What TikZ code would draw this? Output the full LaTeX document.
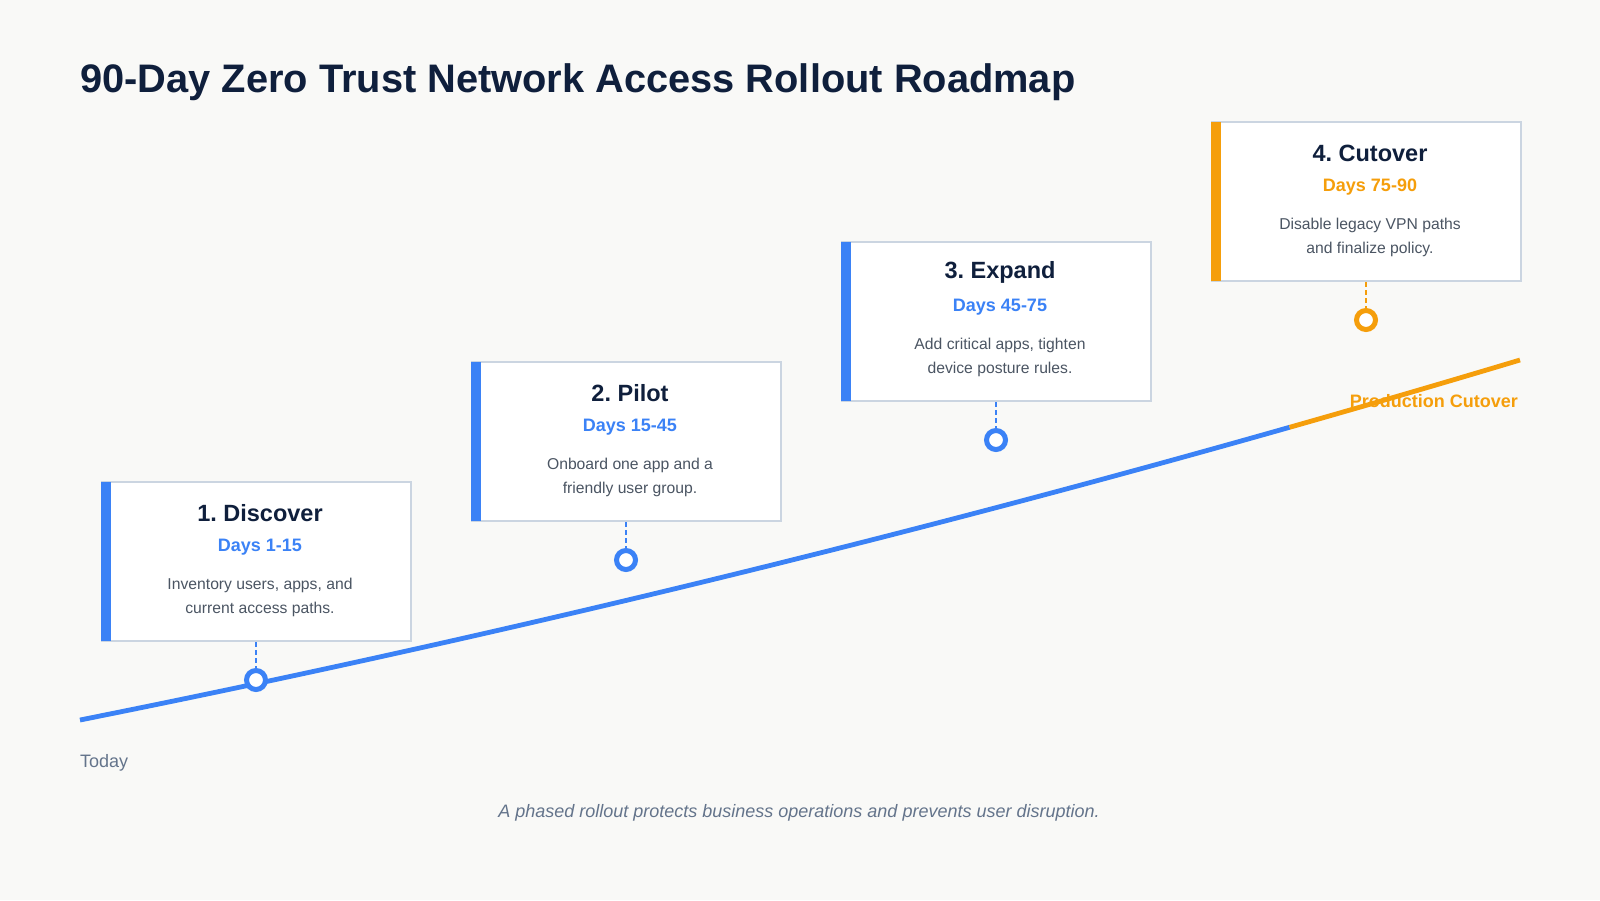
\documentclass[tikz,border=0pt]{standalone}
\usepackage{fontspec}
\setmainfont{Liberation Sans}
\usetikzlibrary{calc}
\definecolor{bgc}{HTML}{F9F9F7}
\definecolor{navyc}{HTML}{0F1F3C}
\definecolor{bluec}{HTML}{3B82F6}
\definecolor{orangec}{HTML}{F59E0B}
\definecolor{borderc}{HTML}{CBD5E1}
\definecolor{descc}{HTML}{4B5563}
\definecolor{mutedc}{HTML}{64748B}
\frenchspacing
\begin{document}
\begin{tikzpicture}[x=1pt,y=-1pt,
  phasebox/.style={draw=borderc, line width=2pt, fill=white, minimum width=309pt, minimum height=159pt, inner sep=0pt, anchor=north west},
  ptitle/.style={anchor=base, inner sep=0pt, text=navyc, font=\fontsize{23.5}{28}\selectfont\bfseries},
  pdays/.style={anchor=base, inner sep=0pt, font=\fontsize{18}{22}\selectfont\bfseries},
  pdesc/.style={anchor=base, inner sep=0pt, text=descc, font=\fontsize{15.7}{20}\selectfont},
  milestone/.style={circle, draw, fill=white, line width=5pt, minimum size=19pt, inner sep=0pt},
  connector/.style={dash pattern=on 5pt off 3pt, line width=2pt},
  roadline/.style={line width=4.8pt}
]
\useasboundingbox[fill=bgc] (0,0) rectangle (1600,900);

% title
\node[anchor=base west, inner sep=0pt, text=navyc, font=\fontsize{39.8}{44}\selectfont\bfseries] (title) at (80,92) {90-Day Zero Trust Network Access Rollout Roadmap};

% road line
\coordinate (start) at (80,720);
\coordinate (split) at (1289.6,427.28);
\coordinate (finish) at (1520,360);
\draw[roadline, bluec] (start) .. controls (483.2,639.36) and (886.4,541.79) .. (split);
\draw[roadline, orangec] (split) .. controls (1366.4,405.47) and (1443.2,383.04) .. (finish);

% phase 1
\node[phasebox] (b1) at (101,481) {};
\fill[bluec] ($(b1.north west)+(0,1)$) rectangle ($(b1.south west)+(9.5,-1)$);
\node[ptitle] (t1) at (260,521) {1. Discover};
\node[pdays, text=bluec] (d1) at (260,551) {Days 1-15};
\node[pdesc] (e1a) at (260,589) {Inventory users, apps, and};
\node[pdesc] (e1b) at (260,613) {current access paths.};
\node[milestone, draw=bluec] (c1) at (256,680) {};
\draw[connector, bluec] (b1.south -| c1) -- (c1.north);

% phase 2
\node[phasebox] (b2) at (471,361) {};
\fill[bluec] ($(b2.north west)+(0,1)$) rectangle ($(b2.south west)+(9.5,-1)$);
\node[ptitle] (t2) at (630,401) {2. Pilot};
\node[pdays, text=bluec] (d2) at (630,431) {Days 15-45};
\node[pdesc] (e2a) at (630,469) {Onboard one app and a};
\node[pdesc] (e2b) at (630,493) {friendly user group.};
\node[milestone, draw=bluec] (c2) at (626,560) {};
\draw[connector, bluec] (b2.south -| c2) -- (c2.north);

% phase 3
\node[phasebox] (b3) at (841,241) {};
\fill[bluec] ($(b3.north west)+(0,1)$) rectangle ($(b3.south west)+(9.5,-1)$);
\node[ptitle] (t3) at (1000,278) {3. Expand};
\node[pdays, text=bluec] (d3) at (1000,311) {Days 45-75};
\node[pdesc] (e3a) at (1000,349) {Add critical apps, tighten};
\node[pdesc] (e3b) at (1000,373) {device posture rules.};
\node[milestone, draw=bluec] (c3) at (996,440) {};
\draw[connector, bluec] (b3.south -| c3) -- (c3.north);

% phase 4
\node[phasebox] (b4) at (1211,121) {};
\fill[orangec] ($(b4.north west)+(0,1)$) rectangle ($(b4.south west)+(9.5,-1)$);
\node[ptitle] (t4) at (1370,161) {4. Cutover};
\node[pdays, text=orangec] (d4) at (1370,191) {Days 75-90};
\node[pdesc] (e4a) at (1370,229) {Disable legacy VPN paths};
\node[pdesc] (e4b) at (1370,253) {and finalize policy.};
\node[milestone, draw=orangec] (c4) at (1366,320) {};
\draw[connector, orangec] (b4.south -| c4) -- (c4.north);

% labels
\node[anchor=base east, inner sep=0pt, text=orangec, font=\fontsize{18}{22}\selectfont\bfseries] (prod) at (1518,407) {Production Cutover};
\node[anchor=base west, inner sep=0pt, text=mutedc, font=\fontsize{18}{22}\selectfont] (today) at (80,767) {Today};
\node[anchor=base, inner sep=0pt, text=mutedc, font=\fontsize{18}{22}\selectfont\itshape] (foot) at (799,817) {A phased rollout protects business operations and prevents user disruption.};
\end{tikzpicture}
\end{document}
